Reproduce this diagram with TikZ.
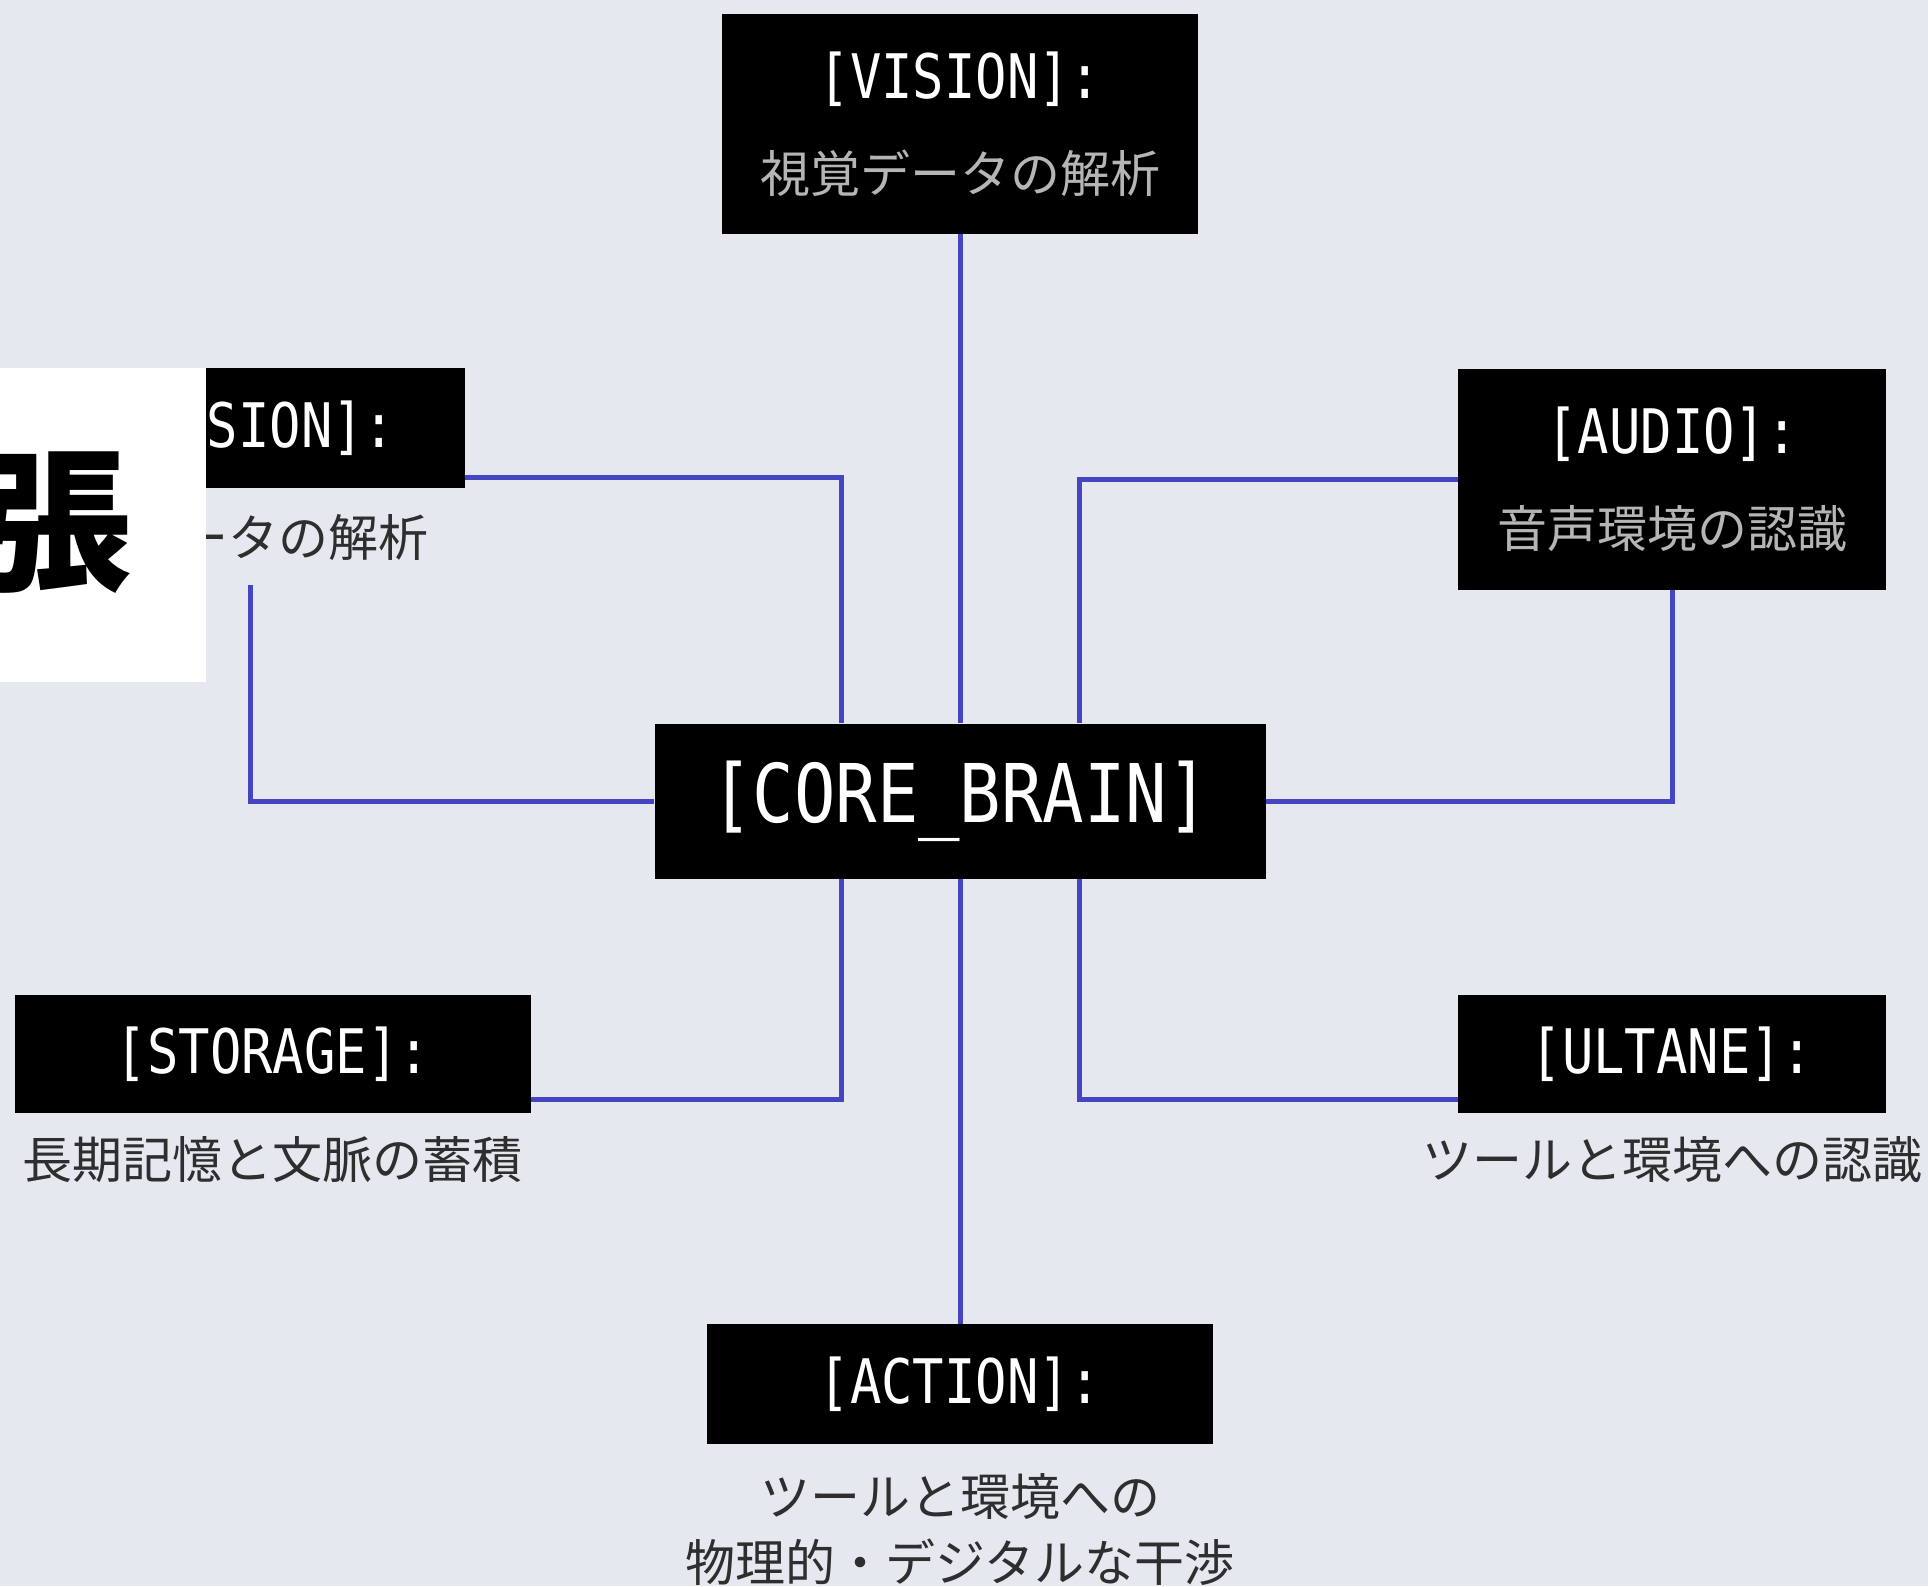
\documentclass[tikz,border=0pt]{standalone}
\usepackage{fontspec}
\usetikzlibrary{calc}
\newfontfamily\monofont[FakeStretch=0.85]{DejaVu Sans Mono}
\newfontfamily\cjkfont{Noto Sans CJK JP}
\definecolor{bgpaper}{HTML}{E5E8EF}
\definecolor{wire}{HTML}{4545C2}
\definecolor{subgray}{HTML}{B5B5B5}
\definecolor{descgray}{HTML}{2E2E2E}

\begin{document}
\begin{tikzpicture}[x=0.5pt,y=-0.5pt,
        box/.style={fill=black,text=white,inner sep=0pt,align=center,
            font=\monofont\fontsize{30.7}{47}\selectfont},
        link/.style={draw=wire,line width=2.5pt},
        desc/.style={text=descgray,inner sep=0pt,align=center,
            font=\cjkfont\fontsize{25}{33}\selectfont}]
        \clip (0,0) rectangle (1928,1586);
        \fill[bgpaper] (0,0) rectangle (1928,1586);

        % module boxes
        \node[box,minimum width=238pt,minimum height=110pt] (vision) at (960,124)
            {[VISION]:\\{\cjkfont\fontsize{25}{47}\selectfont\color{subgray}視覚データの解析}};
        \node[box,minimum width=210.5pt,minimum height=60pt] (visleft) at (254,428) {[VISION]:};
        \node[desc] (visleftdesc) at (228,537) {視覚データの解析};
        \node[box,minimum width=214pt,minimum height=110.5pt] (audio) at (1672,479)
            {[AUDIO]:\\{\cjkfont\fontsize{25}{47}\selectfont\color{subgray}音声環境の認識}};
        \node[box,minimum width=305.5pt,minimum height=77.5pt,
            font=\monofont\fontsize{40.5}{48}\selectfont] (core) at (960,801) {[CORE\_BRAIN]};
        \node[box,minimum width=258pt,minimum height=59pt] (storage) at (273,1054) {[STORAGE]:};
        \node[desc] (storagedesc) at (273,1160) {長期記憶と文脈の蓄積};
        \node[box,minimum width=214pt,minimum height=59pt] (ultane) at (1672,1054) {[ULTANE]:};
        \node[desc] (ultanedesc) at (1672,1160) {ツールと環境への認識};
        \node[box,minimum width=253pt,minimum height=60pt] (action) at (960,1384) {[ACTION]:};
        \node[desc] (actiondesc) at (960,1530) {ツールと環境への\\物理的・デジタルな干渉};
        \coordinate (visleftfoot) at (250,585);

        % wiring to the core
        \draw[link] (vision) -- (core);
        \draw[link] (core) -- (action);
        \draw[link] ($(visleft.south east)+(0,-11)$) -| ($(core.north)+(-119,0)$);
        \draw[link] (audio.west) -| ($(core.north)+(119,0)$);
        \draw[link] (visleftfoot) |- (core.west);
        \draw[link] (audio.south) |- (core.east);
        \draw[link] ($(storage.south east)+(0,-14)$) -| ($(core.south)+(-119,0)$);
        \draw[link] ($(ultane.south west)+(0,-14)$) -| ($(core.south)+(119,0)$);

        % title panel over the left box
        \fill[white] (0,368) rectangle (206,682);
        \node[inner sep=0pt,font=\cjkfont\bfseries\fontsize{77}{80}\selectfont] (titlechar) at (54,523) {張};
    \end{tikzpicture}
\end{document}
